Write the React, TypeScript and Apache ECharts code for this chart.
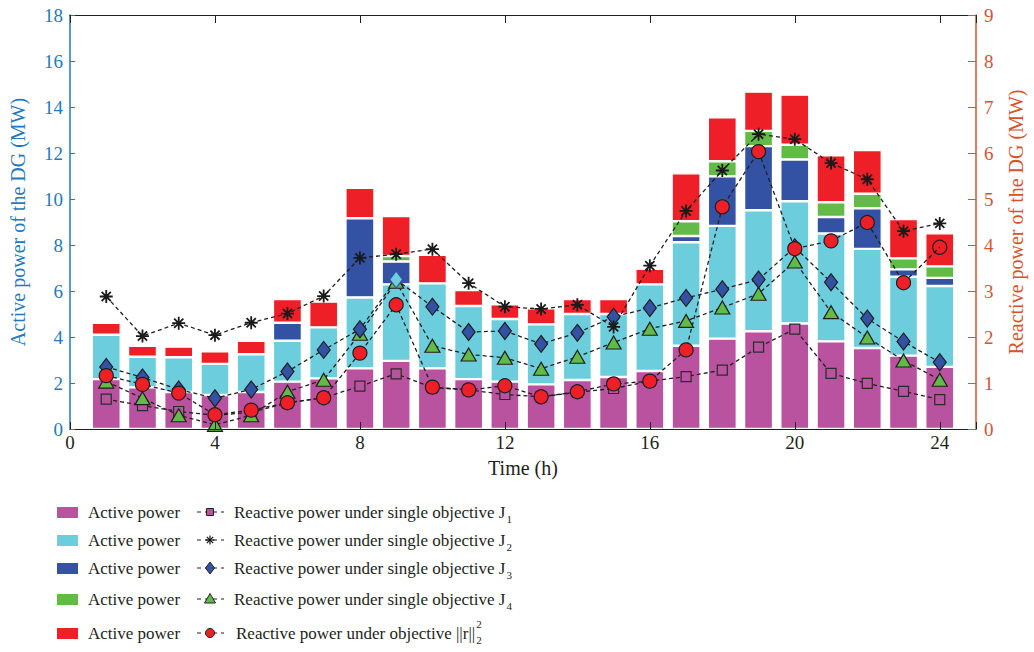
import React, { useEffect, useRef } from "react";
import * as echarts from "echarts";

// Hour of day for each column
const hours = [1, 2, 3, 4, 5, 6, 7, 8, 9, 10, 11, 12, 13, 14, 15, 16, 17, 18, 19, 20, 21, 22, 23, 24];

// Active power of the DG (MW), stacked segments bottom to top
const activeMagenta = [2.17, 1.81, 1.61, 1.48, 1.61, 2.06, 2.2, 2.64, 2.96, 2.64, 2.17, 2.06, 1.94, 2.13, 2.26, 2.52, 3.62, 3.93, 4.25, 4.59, 3.81, 3.52, 3.19, 2.7];
const activeCyan = [1.93, 1.33, 1.51, 1.35, 1.64, 1.78, 2.22, 3.08, 3.33, 3.69, 3.18, 2.72, 2.61, 2.87, 2.74, 3.77, 4.5, 4.9, 5.26, 5.31, 4.69, 4.31, 3.43, 3.52];
const activeBlue = [0, 0, 0, 0, 0, 0.78, 0, 3.44, 0.99, 0, 0, 0, 0, 0, 0, 0, 0.27, 2.16, 2.79, 1.82, 0.72, 1.77, 0.32, 0.35];
const activeGreen = [0, 0, 0, 0, 0, 0, 0, 0, 0.24, 0, 0, 0, 0, 0, 0, 0, 0.64, 0.65, 0.66, 0.64, 0.64, 0.63, 0.48, 0.5];
const activeRed = [0.52, 0.48, 0.46, 0.55, 0.59, 1.03, 1.12, 1.33, 1.74, 1.24, 0.69, 0.64, 0.7, 0.65, 0.65, 0.67, 2.09, 1.91, 1.71, 2.18, 2.04, 1.9, 1.71, 1.44];

// Reactive power of the DG (MW) under each objective
const reactiveJ1 = [0.65, 0.51, 0.38, 0.3, 0.36, 0.57, 0.68, 0.93, 1.2, 0.9, 0.85, 0.75, 0.7, 0.8, 0.88, 1.04, 1.14, 1.28, 1.78, 2.17, 1.21, 0.99, 0.82, 0.64];
const reactiveJ2 = [2.88, 2.02, 2.3, 2.04, 2.31, 2.51, 2.89, 3.72, 3.8, 3.91, 3.17, 2.66, 2.61, 2.7, 2.22, 3.55, 4.74, 5.62, 6.41, 6.3, 5.78, 5.43, 4.3, 4.47];
const reactiveJ3 = [1.35, 1.12, 0.86, 0.67, 0.86, 1.25, 1.72, 2.17, 3.25, 2.66, 2.11, 2.13, 1.85, 2.09, 2.44, 2.63, 2.85, 3.04, 3.25, 3.95, 3.19, 2.4, 1.9, 1.45];
const reactiveJ4 = [1.03, 0.67, 0.3, 0.09, 0.3, 0.81, 1.07, 2.07, 3.2, 1.81, 1.62, 1.55, 1.31, 1.57, 1.88, 2.18, 2.35, 2.64, 2.94, 3.64, 2.54, 1.99, 1.49, 1.07];
const reactiveR = [1.16, 0.97, 0.78, 0.31, 0.41, 0.57, 0.68, 1.65, 2.7, 0.91, 0.85, 0.94, 0.7, 0.81, 0.98, 1.04, 1.72, 4.83, 6.03, 3.92, 4.09, 4.49, 3.18, 3.95];

// Axis ticks
const xTicks = { min: 0, max: 25, interval: 4 };
const yLeftTicks = { min: 0, max: 18, interval: 2 };
const yRightTicks = { min: 0, max: 9, interval: 1 };

const SERIF = '"Liberation Serif", "Times New Roman", serif';
const INK = "#231f20";
const LEFT_C = "#2479bd";
const RIGHT_C = "#d6532c";
const C_MAG = "#b9529f";
const C_CYAN = "#6ccddd";
const C_BLUE = "#3452a4";
const C_GREEN = "#63bb47";
const C_RED = "#ee1f26";

// 8-spoke asterisk marker built from four thin bars
function asteriskPath(): string {
  const L = 10;
  const w = 1.4;
  let d = "";
  [0, 45, 90, 135].forEach((deg) => {
    const a = (deg * Math.PI) / 180;
    const c = Math.cos(a);
    const s = Math.sin(a);
    const pts = [
      [-L, -w],
      [L, -w],
      [L, w],
      [-L, w],
    ].map(([x, y]) => [x * c - y * s, x * s + y * c]);
    d += `M${pts[0][0].toFixed(2)} ${pts[0][1].toFixed(2)}`;
    for (let i = 1; i < 4; i++) d += `L${pts[i][0].toFixed(2)} ${pts[i][1].toFixed(2)}`;
    d += "Z";
  });
  return "path://" + d;
}

function measure(text: string, size: number): number {
  const cv = document.createElement("canvas");
  const ctx = cv.getContext("2d");
  if (!ctx) return text.length * size * 0.45;
  ctx.font = `${size}px ${SERIF}`;
  return ctx.measureText(text).width;
}

export default function App() {
  const ref = useRef<HTMLDivElement>(null);

  useEffect(() => {
    document.body.style.margin = "0";
    if (!ref.current) return;
    const chart = echarts.init(ref.current, undefined, { renderer: "svg" });

    const pair = (arr: number[]) => hours.map((h, i) => [h, arr[i]]);
    // value first so that the stack accumulates along the y dimension
    const valueFirst = (arr: number[]) => hours.map((h, i) => [arr[i], h]);

    const barSeries = [
      { name: "Active power 1", data: activeMagenta, color: C_MAG },
      { name: "Active power 2", data: activeCyan, color: C_CYAN },
      { name: "Active power 3", data: activeBlue, color: C_BLUE },
      { name: "Active power 4", data: activeGreen, color: C_GREEN },
      { name: "Active power 5", data: activeRed, color: C_RED },
    ].map((s) => ({
      type: "bar",
      name: s.name,
      stack: "active",
      xAxisIndex: 0,
      yAxisIndex: 0,
      barWidth: 29,
      dimensions: ["p", "hour"],
      encode: { x: 1, y: 0 },
      data: valueFirst(s.data),
      itemStyle: { color: s.color, borderColor: "#ffffff", borderWidth: 1.2 },
      z: 2,
    }));

    const dashed = { color: INK, width: 1.3, type: [4, 3] as number[] };
    const lineBase = {
      type: "line",
      xAxisIndex: 0,
      yAxisIndex: 1,
      lineStyle: dashed,
      z: 5,
    };

    const lineSeries = [
      {
        ...lineBase,
        name: "J1",
        data: pair(reactiveJ1),
        symbol: "rect",
        symbolSize: 10,
        itemStyle: { color: C_MAG, borderColor: "#2b2b2b", borderWidth: 1.2 },
      },
      {
        ...lineBase,
        name: "J4",
        data: pair(reactiveJ4),
        symbol: "triangle",
        symbolSize: [15, 13],
        itemStyle: { color: C_GREEN, borderColor: "#1e1e1e", borderWidth: 1.2 },
      },
      {
        ...lineBase,
        name: "J3",
        data: pair(reactiveJ3).map((p, i) =>
          i === 8 ? { value: p, itemStyle: { color: C_CYAN, borderColor: C_BLUE } } : p
        ),
        symbol: "diamond",
        symbolSize: [13, 17],
        itemStyle: { color: C_BLUE, borderColor: "#1e1e1e", borderWidth: 1.2 },
      },
      {
        ...lineBase,
        name: "J2",
        data: pair(reactiveJ2),
        symbol: asteriskPath(),
        symbolSize: 13,
        itemStyle: { color: "#1a1a1a" },
      },
      {
        ...lineBase,
        name: "R",
        data: pair(reactiveR).map((p, i) =>
          i === 23 ? { value: p, itemStyle: { color: "transparent", borderColor: "#1e1e1e" } } : p
        ),
        symbol: "circle",
        symbolSize: 14,
        itemStyle: { color: C_RED, borderColor: "#1e1e1e", borderWidth: 1.2 },
      },
    ];

    // Legend drawn with graphic elements (two columns)
    const rowsY = [512, 540, 568, 599, 633];
    const boxColors = [C_MAG, C_CYAN, C_BLUE, C_GREEN, C_RED];
    const legendFont = 17;
    const labels = [
      { main: "Reactive power under single objective J", sub: "1", sup: "" },
      { main: "Reactive power under single objective J", sub: "2", sup: "" },
      { main: "Reactive power under single objective J", sub: "3", sup: "" },
      { main: "Reactive power under single objective J", sub: "4", sup: "" },
      { main: "Reactive power under objective ||r||", sub: "2", sup: "2" },
    ];
    const graphics: any[] = [];
    rowsY.forEach((y, i) => {
      graphics.push({
        type: "rect",
        shape: { x: 57, y: y - 5, width: 21, height: 11 },
        style: { fill: boxColors[i] },
      });
      graphics.push({
        type: "text",
        x: 88,
        y,
        style: { text: "Active power", font: `${legendFont}px ${SERIF}`, fill: INK, verticalAlign: "middle" },
      });
      graphics.push({
        type: "line",
        shape: { x1: 197, y1: y, x2: 224, y2: y },
        style: { stroke: INK, lineWidth: 1.2, lineDash: [4, 4] },
      });
      const mx = 210;
      if (i === 0) {
        graphics.push({ type: "rect", shape: { x: mx - 3.5, y: y - 3.5, width: 7, height: 7 }, style: { fill: C_MAG, stroke: "#222", lineWidth: 1 } });
      } else if (i === 1) {
        [0, 45, 90, 135].forEach((deg) => {
          const a = (deg * Math.PI) / 180;
          const r = 4.5;
          graphics.push({
            type: "line",
            shape: { x1: mx - r * Math.cos(a), y1: y - r * Math.sin(a), x2: mx + r * Math.cos(a), y2: y + r * Math.sin(a) },
            style: { stroke: "#111", lineWidth: 1.2 },
          });
        });
      } else if (i === 2) {
        graphics.push({ type: "polygon", shape: { points: [[mx, y - 6], [mx + 4.5, y], [mx, y + 6], [mx - 4.5, y]] }, style: { fill: C_BLUE, stroke: "#222", lineWidth: 1 } });
      } else if (i === 3) {
        graphics.push({ type: "polygon", shape: { points: [[mx, y - 5.5], [mx + 5.5, y + 4], [mx - 5.5, y + 4]] }, style: { fill: C_GREEN, stroke: "#222", lineWidth: 1 } });
      } else {
        graphics.push({ type: "circle", shape: { cx: mx, cy: y, r: 4.5 }, style: { fill: C_RED, stroke: "#222", lineWidth: 1 } });
      }
      const tx = i === 4 ? 236 : 234;
      const lab = labels[i];
      graphics.push({
        type: "text",
        x: tx,
        y,
        style: { text: lab.main, font: `${legendFont}px ${SERIF}`, fill: INK, verticalAlign: "middle" },
      });
      const w = measure(lab.main, legendFont);
      graphics.push({
        type: "text",
        x: tx + w + 1,
        y: y + 7,
        style: { text: lab.sub, font: `11px ${SERIF}`, fill: INK, verticalAlign: "middle" },
      });
      if (lab.sup) {
        graphics.push({
          type: "text",
          x: tx + w + 1,
          y: y - 9,
          style: { text: lab.sup, font: `11px ${SERIF}`, fill: INK, verticalAlign: "middle" },
        });
      }
    });

    const tickFont = { fontFamily: SERIF, fontSize: 19 };
    const nameFont = { fontFamily: SERIF, fontSize: 20 };

    chart.setOption({
      animation: false,
      grid: { left: 68, right: 54, top: 15, bottom: 223, containLabel: false },
      xAxis: [
        {
          type: "value",
          position: "bottom",
          ...xTicks,
          axisLine: { show: true, onZero: false, lineStyle: { color: INK, width: 1.2 } },
          axisTick: { show: true, inside: true, length: 7, lineStyle: { color: INK } },
          axisLabel: {
            ...tickFont,
            color: INK,
            margin: 4,
            formatter: (v: number) => (v > 24 ? "" : String(v)),
          },
          splitLine: { show: false },
          name: "Time (h)",
          nameLocation: "middle",
          nameGap: 29,
          nameTextStyle: { ...nameFont, color: INK },
          z: 10,
        },
        {
          type: "value",
          position: "top",
          ...xTicks,
          axisLine: { show: true, onZero: false, lineStyle: { color: INK, width: 1.2 } },
          axisTick: { show: true, inside: true, length: 8, lineStyle: { color: INK } },
          axisLabel: { show: false },
          splitLine: { show: false },
          z: 10,
        },
      ],
      yAxis: [
        {
          type: "value",
          position: "left",
          ...yLeftTicks,
          axisLine: { show: true, onZero: false, lineStyle: { color: LEFT_C, width: 1.5 } },
          axisTick: { show: true, inside: true, length: 5, lineStyle: { color: LEFT_C } },
          axisLabel: { ...tickFont, color: LEFT_C, margin: 7 },
          splitLine: { show: false },
          name: "Active power of the DG (MW)",
          nameLocation: "middle",
          nameGap: 42,
          nameRotate: 90,
          nameTextStyle: { ...nameFont, color: LEFT_C },
          z: 10,
        },
        {
          type: "value",
          position: "right",
          ...yRightTicks,
          axisLine: { show: true, onZero: false, lineStyle: { color: RIGHT_C, width: 1.5 } },
          axisTick: { show: true, inside: true, length: 8, lineStyle: { color: RIGHT_C } },
          axisLabel: { ...tickFont, color: RIGHT_C, margin: 8 },
          splitLine: { show: false },
          name: "Reactive power of the DG (MW)",
          nameLocation: "middle",
          nameGap: 30,
          nameRotate: 90,
          nameTextStyle: { ...nameFont, color: RIGHT_C },
          z: 10,
        },
      ],
      series: [...barSeries, ...lineSeries],
      graphic: graphics,
    });

    return () => chart.dispose();
  }, []);

  return <div ref={ref} style={{ width: 1034, height: 652 }} />;
}
